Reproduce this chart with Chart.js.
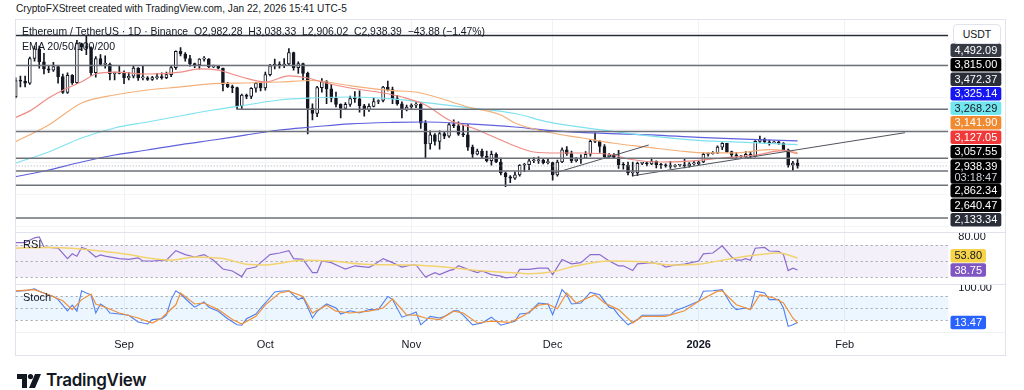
<!DOCTYPE html>
<html>
<head>
<meta charset="utf-8">
<title>ETH / USDT 1D</title>
<script src="https://cdn.jsdelivr.net/npm/chart.js@4.4.1/dist/chart.umd.min.js"></script>
<style>
  body { margin: 0; width: 1024px; height: 390px; overflow: hidden; background: #fff; position: relative;
         font-family: "Liberation Sans", Arial, sans-serif; color: #131722; }
  .abs { position: absolute; white-space: nowrap; }
  canvas { position: absolute; left: 0; z-index: 1; }
  #frame { left: 15px; top: 19px; width: 989px; height: 335px; border: 1px solid #e0e3eb; }
  .sep { left: 16px; width: 989px; height: 1px; background: #e0e3eb; z-index: 2; }
  .legend { font-size: 11px; line-height: 13px; z-index: 3; }
  #usdt { left: 953px; top: 24px; width: 46px; height: 18px; line-height: 18px; border: 1px solid #e0e3eb;
          border-radius: 4px; background: #fff; font-size: 10.5px; text-align: center; z-index: 3; }
  #logo { left: 17px; top: 371px; font-family: Inter, "Liberation Sans", sans-serif; font-size: 17px;
          font-weight: 600; letter-spacing: -0.3px; line-height: 18px; }
  #logo svg { vertical-align: -2px; margin-right: 5px; }
</style>
</head>
<body>
<div class="abs legend" style="left:16px;top:2px;font-size:10.1px">CryptoFXStreet created with TradingView.com, Jan 22, 2026 15:41 UTC-5</div>
<div id="frame" class="abs"></div>
<canvas id="priceChart" width="1024" height="212" style="top:20px"></canvas>
<canvas id="rsiChart" width="1024" height="52" style="top:232px"></canvas>
<canvas id="stochChart" width="1024" height="72" style="top:284px"></canvas>
<div class="abs sep" style="top:232px"></div>
<div class="abs sep" style="top:284px"></div>
<div class="abs sep" style="top:332px;background:#eef0f3"></div>
<div class="abs legend" style="left:22px;top:25px;font-size:10.4px">Ethereum / TetherUS · 1D · Binance &nbsp;O2,982.28 &nbsp;H3,038.33 &nbsp;L2,906.02 &nbsp;C2,938.39 &nbsp;−43.88 (−1.47%)</div>
<div class="abs legend" style="left:22px;top:40px;font-size:10.6px">EMA 20/50/100/200</div>
<div class="abs legend" style="left:23px;top:238px">RSI</div>
<div class="abs legend" style="left:23px;top:291px">Stoch</div>
<div id="usdt" class="abs">USDT</div>
<div id="logo" class="abs"><svg width="24" height="14" viewBox="0 0 24 14"><path d="M0 0h10v14H5V5H0z" fill="#131722"/><circle cx="13.5" cy="2.6" r="2.6" fill="#131722"/><path d="M18 0h6l-6 14h-6z" fill="#131722"/></svg>TradingView</div>

<script>
// ETH/USDT daily candles, first candle = Aug 9 2025 (day 0), last = Jan 22 2026 (day 166)
const openPrices = [
  4010, 4260, 4250, 4220, 4600, 4750, 4550, 4440, 4420, 4475, 4320, 4075, 4340, 4225, 4830, 4780, 4770, 4380, 4600, 4510, 4510, 4365, 4370,
  4390, 4300, 4325, 4450, 4300, 4300, 4275, 4305, 4310, 4305, 4350, 4460, 4710, 4670, 4600, 4520, 4500, 4590, 4590, 4470, 4480, 4450, 4200, 4165, 4150, 3870, 4035, 4015, 4140, 4220,
  4145, 4350, 4485, 4515, 4490, 4515, 4690, 4460, 4520, 4370, 3830, 3750, 4150, 4245, 4130, 3985, 3890, 3830, 3890, 3980, 3975, 3870, 3810, 3860, 3935, 3950, 4160, 4120, 3980, 3900, 3810,
  3850, 3880, 3890, 3600, 3280, 3420, 3320, 3440, 3400, 3580, 3560, 3430, 3420, 3230, 3120, 3170, 3090, 3020, 3120, 3000, 2830, 2770, 2750, 2800, 2950, 2960, 3020, 3020, 3030, 2990,
  2990, 2800, 3000, 3190, 3130, 3020, 3045, 3060, 3120, 3320, 3320, 3240, 3080, 3110, 3070, 2960, 2950, 2830, 2830, 2980, 2980, 2970, 3010, 2960, 2950, 2940, 2930, 2950, 2950, 2940, 2970,
  2970, 3000, 3120, 3130, 3140, 3230, 3290, 3160, 3110, 3090, 3080, 3120, 3090, 3320, 3350, 3310, 3295, 3310, 3290, 3190, 2950, 2982.28
];
const highPrices = [
  4300, 4330, 4330, 4620, 4790, 4790, 4680, 4480, 4540, 4480, 4360, 4380, 4350, 4880, 4840, 4956, 4780, 4630, 4660, 4640, 4530, 4390, 4480,
  4410, 4385, 4490, 4460, 4480, 4320, 4325, 4370, 4380, 4390, 4480, 4720, 4770, 4690, 4650, 4530, 4600, 4630, 4600, 4500, 4490, 4450, 4230, 4190, 4160, 4050, 4050, 4150, 4230, 4240,
  4390, 4510, 4590, 4550, 4600, 4755, 4700, 4550, 4530, 4390, 3900, 4170, 4290, 4260, 4200, 4080, 3900, 3920, 4020, 4090, 4100, 3890, 3900, 3990, 3960, 4170, 4250, 4160, 4030, 3930, 3880,
  3900, 3920, 3910, 3640, 3480, 3440, 3480, 3460, 3600, 3650, 3620, 3570, 3580, 3260, 3200, 3200, 3170, 3170, 3140, 3060, 2850, 2790, 2850, 2960, 2980, 3050, 3070, 3080, 3040, 3050,
  3000, 3030, 3220, 3240, 3170, 3070, 3110, 3160, 3350, 3450, 3330, 3270, 3130, 3130, 3180, 2990, 3000, 3000, 3000, 2990, 3000, 3060, 3020, 2980, 2970, 3010, 2960, 2960, 3050, 2990, 3010,
  3010, 3140, 3140, 3160, 3250, 3300, 3290, 3170, 3150, 3100, 3160, 3160, 3330, 3400, 3370, 3340, 3320, 3320, 3300, 3200, 3010, 3038.33
];
const lowPrices = [
  3990, 4160, 4160, 4200, 4560, 4450, 4360, 4380, 4400, 4220, 4060, 4060, 4200, 4210, 4720, 4660, 4340, 4310, 4490, 4450, 4270, 4270, 4360,
  4210, 4270, 4300, 4260, 4270, 4260, 4260, 4280, 4280, 4290, 4320, 4430, 4640, 4560, 4480, 4460, 4440, 4560, 4460, 4460, 4440, 4100, 4150, 4070, 3815, 3830, 3980, 3980, 4080, 4100,
  4110, 4330, 4440, 4450, 4460, 4490, 4420, 4370, 4270, 3435, 3650, 3700, 4080, 3900, 3930, 3850, 3680, 3820, 3860, 3920, 3770, 3710, 3780, 3850, 3900, 3930, 4100, 3900, 3880, 3680, 3790,
  3830, 3840, 3520, 3060, 3200, 3260, 3200, 3360, 3380, 3530, 3410, 3390, 3180, 3050, 3110, 3060, 3000, 2950, 2990, 2800, 2620, 2680, 2730, 2780, 2850, 2880, 2990, 2980, 2970, 2970,
  2720, 2780, 2990, 3100, 2990, 3000, 2980, 3050, 3090, 3300, 3150, 3070, 3070, 3050, 2900, 2890, 2800, 2780, 2790, 2960, 2940, 2960, 2910, 2900, 2920, 2900, 2920, 2930, 2910, 2920, 2950,
  2960, 2990, 3090, 3120, 3130, 3190, 3150, 3060, 3060, 3070, 3070, 3060, 3080, 3300, 3290, 3260, 3290, 3270, 3180, 2920, 2870, 2906.02
];
const closePrices = [
  4260, 4250, 4220, 4600, 4750, 4550, 4440, 4420, 4475, 4320, 4075, 4340, 4225, 4830, 4780, 4770, 4380, 4600, 4510, 4510, 4365, 4370, 4390,
  4300, 4325, 4450, 4300, 4300, 4275, 4305, 4310, 4305, 4350, 4460, 4710, 4670, 4600, 4520, 4500, 4590, 4590, 4470, 4480, 4450, 4200, 4165, 4150, 3870, 4035, 4015, 4140, 4220, 4145,
  4350, 4485, 4515, 4490, 4515, 4690, 4460, 4520, 4370, 3830, 3750, 4150, 4245, 4130, 3985, 3890, 3830, 3890, 3980, 3975, 3870, 3810, 3860, 3935, 3950, 4160, 4120, 3980, 3900, 3810, 3850,
  3880, 3890, 3600, 3280, 3420, 3320, 3440, 3400, 3580, 3560, 3430, 3420, 3230, 3120, 3170, 3090, 3020, 3120, 3000, 2830, 2770, 2750, 2800, 2950, 2960, 3020, 3020, 3030, 2990, 2990,
  2800, 3000, 3190, 3130, 3020, 3045, 3060, 3120, 3320, 3320, 3240, 3080, 3110, 3070, 2960, 2950, 2830, 2830, 2980, 2980, 2970, 3010, 2960, 2950, 2940, 2930, 2950, 2950, 2940, 2970, 2970,
  3000, 3120, 3130, 3140, 3230, 3290, 3160, 3110, 3090, 3080, 3120, 3090, 3320, 3350, 3310, 3295, 3310, 3290, 3190, 2950, 2982.28, 2938.39
];

// moving averages (day, value)
const ema20Days   = [0, 3, 7, 10, 14, 17, 21, 28, 35, 39, 43, 48, 53, 58, 62, 65, 71, 78, 82, 87, 92, 97, 103, 106, 110, 115, 120, 127, 130, 137, 143, 150, 157, 163, 166];
const ema20Values = [3690, 3790, 3990, 4110, 4240, 4360, 4390, 4360, 4390, 4440, 4420, 4314, 4237, 4330, 4298, 4237, 4144, 4067, 4005, 3882, 3650, 3526, 3340, 3248, 3155, 3139, 3139, 3108, 3046, 3000, 3015, 3062, 3108, 3175, 3127.05];
const ema50Days   = [0, 7, 14, 21, 28, 35, 42, 49, 56, 63, 71, 79, 86, 96, 103, 106, 113, 120, 127, 134, 141, 147, 154, 160, 163, 166];
const ema50Values = [3314, 3572, 3912, 4036, 4113, 4160, 4210, 4221, 4237, 4260, 4180, 4110, 4067, 3850, 3727, 3603, 3460, 3375, 3290, 3230, 3170, 3140, 3145, 3190, 3180, 3141.9];
const ema100Days   = [0, 7, 14, 21, 28, 36, 42, 49, 56, 63, 71, 80, 88, 96, 106, 113, 124, 135, 145, 156, 166];
const ema100Values = [2984, 3155, 3371, 3526, 3618, 3727, 3804, 3881, 3958, 3989, 4005, 3975, 3910, 3840, 3750, 3620, 3500, 3400, 3335, 3300, 3268.29];
const ema200Days   = [0, 7, 14, 21, 28, 36, 42, 49, 56, 63, 71, 80, 87, 96, 106, 113, 124, 135, 145, 156, 166];
const ema200Values = [2773, 2876, 3000, 3108, 3186, 3280, 3340, 3418, 3495, 3541, 3590, 3612, 3618, 3590, 3541, 3490, 3445, 3420, 3380, 3350, 3325.14];

// drawn levels and trend lines
const levelPrices    = [4956, 4492.09, 3815.00, 3472.37, 3057.55, 2862.34, 2640.47, 2133.34];
const levelStartDays = [0, 0, 47, 0, 0, 0, 0, 0];
const trendStartDays   = [114.2, 131.1];
const trendStartPrices = [2825, 2788];
const trendEndDays     = [134.4, 188.8];
const trendEndPrices   = [3263, 3453];
const lastPrice = 2938.39;
const countdown = '03:18:47';

// price scale tags
const priceTagValues = [4492.09, 3815.00, 3472.37, 3325.14, 3268.29, 3141.90, 3127.05, 3057.55, 2938.39, 2862.34, 2640.47, 2133.34];

// RSI 14 and its moving average
const rsiDays   = [0, 2, 4, 5, 6, 9, 11, 12, 13, 14, 15, 17, 18, 19, 22, 24, 26, 27, 29, 32, 34, 36, 38, 40, 42, 44, 46, 48, 49, 51, 52, 54, 56, 58, 59, 61, 63, 64, 65, 67, 69, 70, 72, 75, 76, 78, 80, 82, 84, 85, 87, 89, 90, 92, 93, 94, 96, 98, 99, 101, 103, 104, 106, 107, 109, 111, 113, 114, 116, 118, 120, 122, 124, 126, 128, 129, 131, 132, 135, 137, 138, 140, 142, 145, 146, 148, 150, 152, 153, 154, 155, 156, 157, 159, 160, 162, 163, 164, 165, 166];
const rsiValues = [73, 73, 79, 80, 67.5, 66, 53, 59, 56, 67, 65, 55, 57.5, 56, 53, 52, 54, 50, 50, 51, 63, 58, 55, 58, 51, 40, 37.5, 30.5, 40, 42.5, 48, 58, 60, 63, 53, 52, 35.5, 35.5, 50, 48, 42.5, 40, 44, 42, 45, 53, 48, 42.5, 45, 45, 30, 35.5, 33, 38, 39.5, 44, 39.5, 35.5, 37.5, 33, 31, 29, 30, 39.5, 39.5, 41, 41, 33, 52, 46.5, 48, 58, 58, 50, 44, 44, 38, 46.5, 48, 46, 42.5, 45, 46, 50, 59, 60, 69, 55, 51, 51, 53, 51, 66, 67, 62.5, 62, 58, 38, 41, 38.75];
const rsiMaDays   = [0, 7, 12, 18, 24, 29, 33, 38, 44, 49, 53, 61, 67, 74, 84, 91, 98, 105, 109, 114, 119, 126, 133, 139, 145, 151, 158, 162, 166];
const rsiMaValues = [66, 67, 66, 62.5, 58, 53, 51, 55, 53, 46, 45, 51, 50, 46, 45, 42.5, 38, 35.5, 34, 36.5, 44, 50, 49, 45, 46, 52, 58, 60, 53.80];

// Stochastic %K and %D
const stochKDays   = [0, 2, 4, 5, 7, 8, 9, 11, 12, 13, 14, 15, 16, 17, 18, 19, 20, 22, 24, 26, 28, 29, 31, 32, 33, 34, 35, 37, 38, 40, 41, 43, 45, 47, 48, 49, 51, 52, 53, 55, 56, 58, 60, 61, 62, 63, 64, 66, 68, 69, 71, 73, 75, 77, 79, 80, 82, 84, 85, 86, 88, 90, 91, 93, 94, 95, 97, 99, 101, 103, 106, 107, 109, 111, 113, 114, 116, 117, 118, 120, 122, 124, 126, 127, 128, 130, 132, 133, 135, 137, 139, 140, 142, 145, 146, 148, 150, 152, 153, 155, 156, 157, 159, 160, 162, 163, 164, 165, 166];
const stochKValues = [92, 93, 98, 92, 83, 79, 71, 43, 57, 42, 93, 87.5, 83, 37.5, 60, 52, 37.5, 35, 32, 15, 10, 21, 23, 32, 71, 93, 85, 62.5, 52, 65, 52, 42, 23, 8, 7, 23, 35, 50, 62.5, 90, 92, 93, 71, 77, 52, 25, 42, 60, 50, 35, 43, 37.5, 46, 46, 79, 71, 27, 35, 40, 8, 29, 25, 29, 43, 43, 32, 8, 12.5, 27, 7, 17, 35, 37.5, 62.5, 60, 33, 96, 83, 60, 62.5, 89, 83, 52, 48, 32, 8, 21, 32, 32, 32, 33, 43, 52, 67, 92, 93, 96, 57, 46, 50, 46, 92, 87.5, 71, 71, 50, 4, 8, 13.47];
const stochDDays   = [0, 4, 7, 10, 12, 14, 16, 17, 19, 22, 26, 29, 31, 34, 35, 38, 40, 43, 46, 48, 51, 53, 56, 58, 61, 63, 66, 68, 71, 75, 78, 80, 83, 85, 87, 90, 93, 95, 98, 101, 105, 108, 111, 113, 115, 117, 119, 123, 125, 128, 131, 133, 138, 142, 145, 149, 150, 153, 156, 158, 161, 163, 165, 166];
const stochDValues = [93, 96, 83, 68, 46, 71, 85, 60, 52, 37.5, 25, 12.5, 25, 58, 87.5, 60, 62.5, 46, 21, 10, 29, 58, 87.5, 92, 79, 37.5, 57, 42, 37.5, 42, 50, 73, 33, 32, 25, 21, 42, 37.5, 12.5, 17, 14, 32, 57, 60, 48, 87.5, 62.5, 83, 62.5, 46, 12.5, 29, 29, 43, 67, 92, 93, 58, 46, 83, 75, 62.5, 25, 12.5];

// time axis
const monthStarts = [23, 53, 84, 114, 145, 176];
const monthLabels = ['Sep', 'Oct', 'Nov', 'Dec', '2026', 'Feb'];
const priceGrid = [2000, 2500, 3000, 3500, 4000, 4500, 5000];
const rsiTicks = [80];
const stochTicks = [100];

// ---- layout / style ----
const FONT = '"Liberation Sans", Arial, sans-serif';
const xMax = 198;
const plotLeft = 15.7;
const axisWidth = 1024 - 948.3;

const pts = (xs, ys) => xs.map((x, i) => ({ x: x, y: ys[i] }));

function timeAxis(showLabels) {
  return {
    type: 'linear', min: 0, max: xMax, offset: false,
    grid: { color: '#f0f2f5', drawTicks: false, offset: false },
    border: { display: false },
    afterBuildTicks: s => { s.ticks = monthStarts.map(v => ({ value: v })); },
    ticks: {
      display: showLabels, autoSkip: false, maxRotation: 0, padding: 6, color: '#131722',
      font: c => ({ family: FONT, size: 11, weight: monthLabels[c.index] === '2026' ? 'bold' : 'normal' }),
      callback: (v, i) => monthLabels[i]
    },
    afterFit: s => { s.height = showLabels ? 24 : 0; s.paddingLeft = 0; s.paddingRight = 0; }
  };
}

function rightAxis(min, max, tickValues, showLabels, gridColor) {
  return {
    position: 'right', min: min, max: max,
    grid: { display: !!gridColor, color: gridColor, drawTicks: false },
    border: { display: false },
    afterBuildTicks: s => { s.ticks = tickValues.map(v => ({ value: v })); },
    ticks: { display: showLabels, padding: 10, color: '#131722', font: { family: FONT, size: 11 }, callback: v => v.toFixed(2) },
    afterFit: s => { s.width = axisWidth; s.paddingTop = 0; s.paddingBottom = 0; }
  };
}

function baseOptions(yAxis, showTime, pluginOpts) {
  return {
    responsive: false, animation: false,
    layout: { padding: { left: plotLeft, right: 0, top: 0, bottom: 0 } },
    elements: { point: { radius: 0 } },
    plugins: Object.assign({ legend: { display: false }, tooltip: { enabled: false } }, pluginOpts),
    scales: { x: timeAxis(showTime), y: yAxis }
  };
}

const fmt = v => v.toLocaleString('en-US', { minimumFractionDigits: 2, maximumFractionDigits: 2 });

// price-scale tags pushed apart around the anchored last value
const tagPlugin = {
  id: 'tags',
  afterDraw(chart, args, opts) {
    const { ctx } = chart;
    const y = chart.scales.y;
    const items = opts.items, a = opts.anchor, step = 14.5;
    const pos = items.map(it => y.getPixelForValue(it.value));
    let top = pos[a] - 7;
    let bottom = pos[a] + (items[a].sub ? 17.5 : 6.5);
    for (let i = a - 1; i >= 0; i--) { pos[i] = Math.min(pos[i], top - step / 2); top = pos[i] - step / 2; }
    for (let i = a + 1; i < items.length; i++) { pos[i] = Math.max(pos[i], bottom + step / 2); bottom = pos[i] + step / 2; }
    ctx.save();
    ctx.font = '11px ' + FONT;
    ctx.textBaseline = 'middle';
    items.forEach((it, i) => {
      const label = fmt(it.value);
      const w = ctx.measureText(label).width + 8;
      const h = it.sub ? 24.5 : 13.5;
      const x0 = 950.5, y0 = pos[i] - 6.75;
      ctx.fillStyle = it.bg;
      ctx.beginPath();
      ctx.roundRect(x0, y0, w, h, 2);
      ctx.fill();
      ctx.fillStyle = it.fg;
      ctx.fillText(label, x0 + 4, pos[i] + 0.5);
      if (it.sub) {
        ctx.fillStyle = '#d1d4dc';
        ctx.fillText(it.sub, x0 + 4, pos[i] + 11.5);
      }
    });
    ctx.restore();
  }
};

// indicator band + dotted levels
const bandPlugin = {
  id: 'bands',
  beforeDatasetsDraw(chart, args, opts) {
    const { ctx, chartArea: area } = chart;
    const y = chart.scales.y;
    ctx.save();
    const t = y.getPixelForValue(opts.upper), b = y.getPixelForValue(opts.lower);
    ctx.fillStyle = opts.fill;
    ctx.fillRect(area.left, t, area.right - area.left, b - t);
    ctx.strokeStyle = '#a3a6af';
    ctx.lineWidth = 1;
    ctx.setLineDash([2, 3]);
    opts.levels.forEach(v => {
      const py = Math.round(y.getPixelForValue(v)) + 0.5;
      ctx.beginPath(); ctx.moveTo(area.left, py); ctx.lineTo(area.right, py); ctx.stroke();
    });
    ctx.restore();
  }
};

// ---- price pane ----
const dayIdx = openPrices.map((_, i) => i);
const isUp = i => closePrices[i] >= openPrices[i];

const priceDatasets = [
  {
    type: 'bar', label: 'wick', order: 4, grouped: false, barThickness: 1,
    data: dayIdx.map(i => ({ x: i, y: [lowPrices[i], highPrices[i]] })),
    backgroundColor: '#131722', borderWidth: 0
  },
  {
    type: 'bar', label: 'body', order: 3, grouped: false, barThickness: 3, minBarLength: 1,
    data: dayIdx.map(i => ({ x: i, y: [openPrices[i], closePrices[i]] })),
    backgroundColor: c => isUp(c.dataIndex) ? '#ffffff' : '#131722',
    borderColor: '#131722', borderWidth: 1, borderSkipped: false
  }
];

[[ema20Days, ema20Values, '#ef8c84'], [ema50Days, ema50Values, '#f4b07a'],
 [ema100Days, ema100Values, '#7ee2ee'], [ema200Days, ema200Values, '#5f60dc']].forEach(([d, v, col]) => {
  priceDatasets.push({ type: 'line', order: 2, data: pts(d, v), borderColor: col, borderWidth: 1.2, cubicInterpolationMode: 'monotone' });
});

levelPrices.forEach((p, i) => {
  priceDatasets.push({
    type: 'line', order: 1, data: [{ x: levelStartDays[i], y: p }, { x: xMax, y: p }],
    borderColor: i === 0 ? '#2a2e39' : '#6e717a', borderWidth: 1.5
  });
});

trendStartDays.forEach((d, i) => {
  priceDatasets.push({
    type: 'line', order: 1, data: [{ x: d, y: trendStartPrices[i] }, { x: trendEndDays[i], y: trendEndPrices[i] }],
    borderColor: '#50535c', borderWidth: 1
  });
});

priceDatasets.push({
  type: 'line', order: 1, data: [{ x: 0, y: lastPrice }, { x: xMax, y: lastPrice }],
  borderColor: '#a8abb3', borderWidth: 1, borderDash: [1, 2]
});

const tagBg = ['#363a45', '#000000', '#2a2e39', '#1616f0', '#72e6ef', '#f08a30', '#f03838', '#000000', '#000000', '#000000', '#000000', '#2a2e39'];
const tagFg = tagBg.map(c => c === '#72e6ef' ? '#131722' : '#ffffff');
const priceTags = priceTagValues.map((v, i) => ({ value: v, bg: tagBg[i], fg: tagFg[i], sub: v === lastPrice ? countdown : null }));

new Chart(document.getElementById('priceChart'), {
  type: 'bar',
  data: { datasets: priceDatasets },
  options: baseOptions(rightAxis(1918, 5195, priceGrid, false, '#f3f4f6'), false,
    { tags: { items: priceTags, anchor: priceTagValues.indexOf(lastPrice) } }),
  plugins: [tagPlugin]
});

// ---- RSI pane ----
new Chart(document.getElementById('rsiChart'), {
  type: 'line',
  data: {
    datasets: [
      { data: pts(rsiMaDays, rsiMaValues), borderColor: '#f3d36e', borderWidth: 1.5, cubicInterpolationMode: 'monotone' },
      { data: pts(rsiDays, rsiValues), borderColor: '#8c6bcf', borderWidth: 1.2 }
    ]
  },
  options: baseOptions(rightAxis(21.25, 86.25, rsiTicks, true), false, {
    bands: { upper: 70, lower: 30, levels: [70, 50, 30], fill: 'rgba(126, 87, 194, 0.09)' },
    tags: {
      items: [
        { value: rsiMaValues[rsiMaValues.length - 1], bg: '#f7d34a', fg: '#131722' },
        { value: rsiValues[rsiValues.length - 1], bg: '#7e57c2', fg: '#ffffff' }
      ],
      anchor: 1
    }
  }),
  plugins: [bandPlugin, tagPlugin]
});

// ---- Stochastic pane ----
new Chart(document.getElementById('stochChart'), {
  type: 'line',
  data: {
    datasets: [
      { data: pts(stochDDays, stochDValues), borderColor: '#f0913a', borderWidth: 1.2 },
      { data: pts(stochKDays, stochKValues), borderColor: '#4f7ff0', borderWidth: 1.1 }
    ]
  },
  options: baseOptions(rightAxis(-10, 110, stochTicks, true), true, {
    bands: { upper: 80, lower: 20, levels: [80, 50, 20], fill: 'rgba(33, 150, 243, 0.09)' },
    tags: { items: [{ value: stochKValues[stochKValues.length - 1], bg: '#2962ff', fg: '#ffffff' }], anchor: 0 }
  }),
  plugins: [bandPlugin, tagPlugin]
});
</script>
</body>
</html>
